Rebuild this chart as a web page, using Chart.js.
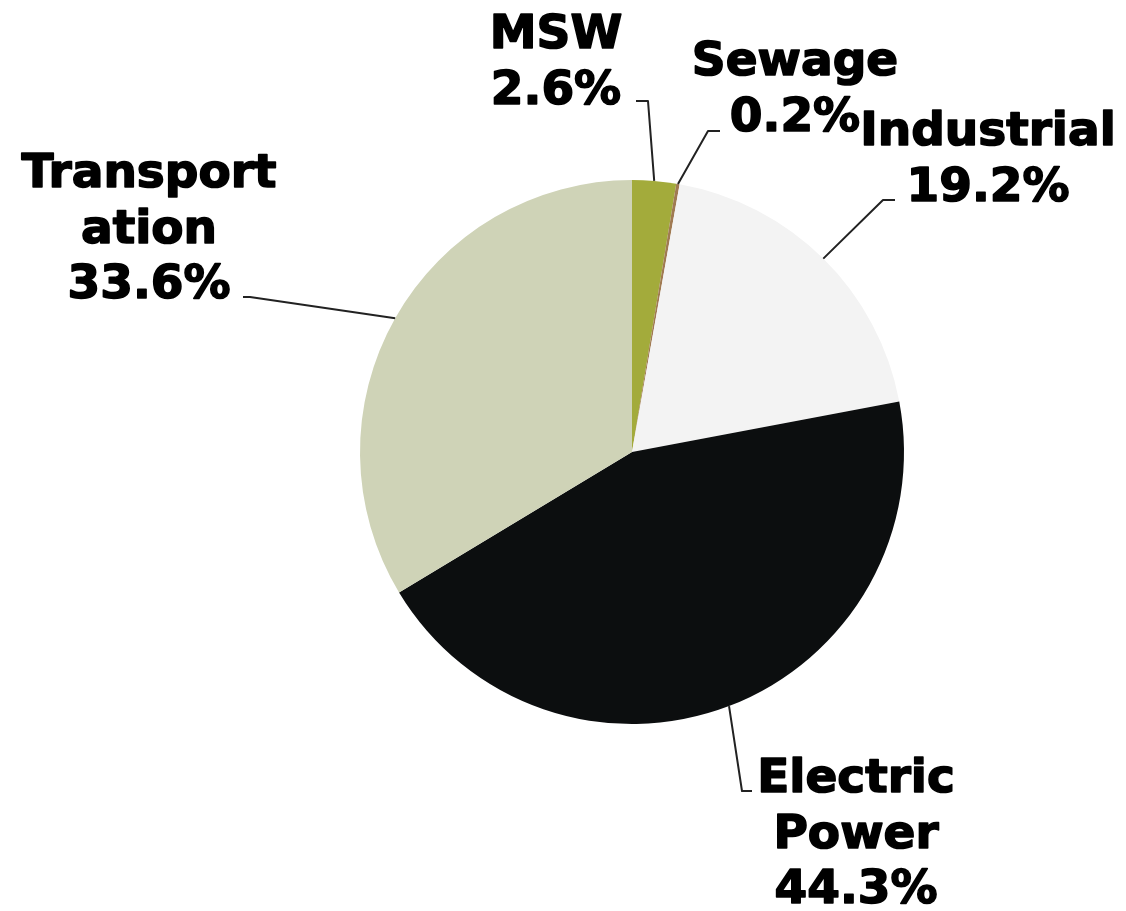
<!DOCTYPE html>
<html>
<head>
<meta charset="utf-8">
<script src="https://cdn.jsdelivr.net/npm/chart.js@4"></script>
<style>
  html, body { margin: 0; padding: 0; background: #fff; }
  #wrap { width: 1126px; height: 911px; }
</style>
</head>
<body>
<div id="wrap"><canvas id="pieChart" width="1126" height="911"></canvas></div>
<script>
// data, clockwise from 12 o'clock
const categories = [["MSW"], ["Sewage"], ["Industrial"], ["Electric", "Power"], ["Transport", "ation"]];
const shares = [2.6, 0.2, 19.2, 44.3, 33.6];
const sliceColors = ["#a3ab3b", "#a07a52", "#f3f3f3", "#0c0e0f", "#cfd3b7"];

// where each callout sits: text centre x, first baseline, elbow and end of the leader
const callouts = [
    { x: 556, y: 48, elbow: [648, 101], end: [636, 101] },
    { x: 795, y: 75, elbow: [708, 131], end: [720, 131] },
    { x: 988, y: 145, elbow: [883, 200], end: [895, 200] },
    { x: 856, y: 792, elbow: [742, 791], end: [752, 791] },
    { x: 149, y: 187, elbow: [250, 297], end: [243, 297] },
];

const calloutPlugin = {
    id: "callouts",
    afterDatasetsDraw(chart) {
        const ctx = chart.ctx;
        const arcs = chart.getDatasetMeta(0).data;
        ctx.save();
        ctx.font = "bold 47px 'DejaVu Sans', Verdana, sans-serif";
        ctx.textAlign = "center";
        ctx.textBaseline = "alphabetic";
        ctx.lineJoin = "round";
        arcs.forEach((arc, i) => {
            const c = callouts[i];
            const mid = (arc.startAngle + arc.endAngle) / 2;
            const sx = arc.x + Math.cos(mid) * arc.outerRadius;
            const sy = arc.y + Math.sin(mid) * arc.outerRadius;
            ctx.strokeStyle = "#222";
            ctx.lineWidth = 2;
            ctx.beginPath();
            ctx.moveTo(sx, sy);
            ctx.lineTo(c.elbow[0], c.elbow[1]);
            ctx.lineTo(c.end[0], c.end[1]);
            ctx.stroke();

            // slight outline to get the heavier weight of the original face
            ctx.fillStyle = "#000";
            ctx.strokeStyle = "#000";
            ctx.lineWidth = 1.6;
            const lines = categories[i].concat([shares[i].toFixed(1) + "%"]);
            lines.forEach((t, k) => {
                ctx.strokeText(t, c.x, c.y + k * 55.5);
                ctx.fillText(t, c.x, c.y + k * 55.5);
            });
        });
        ctx.restore();
    },
};

new Chart(document.getElementById("pieChart").getContext("2d"), {
    type: "pie",
    data: {
        labels: categories,
        datasets: [{
            data: shares,
            backgroundColor: sliceColors,
            borderWidth: 0,
        }],
    },
    options: {
        responsive: false,
        animation: false,
        rotation: 0,
        layout: { padding: { left: 360, right: 222, top: 180, bottom: 187 } },
        plugins: {
            legend: { display: false },
            tooltip: { enabled: false },
        },
    },
    plugins: [calloutPlugin],
});
</script>
</body>
</html>
